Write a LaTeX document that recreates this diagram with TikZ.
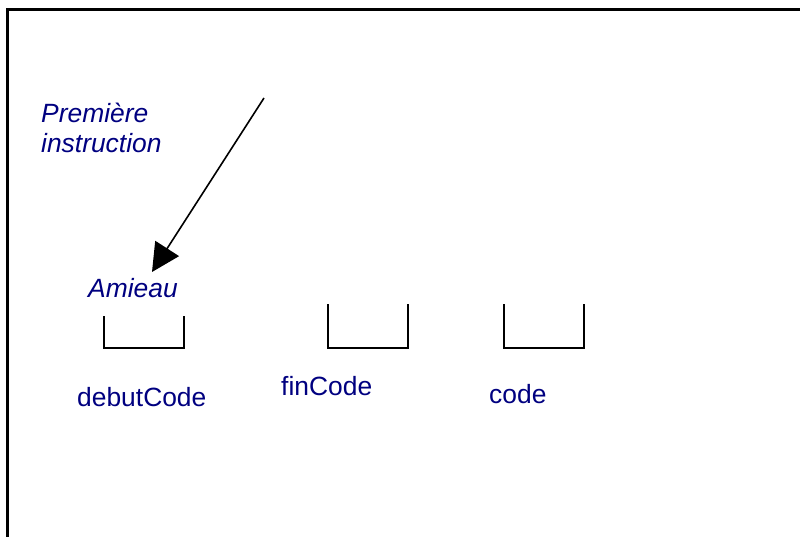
\documentclass[tikz,border=0pt]{standalone}
\usepackage{fontspec}
\setmainfont{Liberation Sans}
\usetikzlibrary{arrows.meta}
\definecolor{navytext}{RGB}{0,0,128}
\tikzset{
  lbl/.style={anchor=base west, inner sep=0pt, text=navytext, font=\fontsize{26.4}{30}\selectfont},
  ilbl/.style={lbl, font=\fontsize{26.4}{30}\selectfont\itshape},
  slot/.style={draw=black, line width=2pt},
  frame/.style={draw=black, line width=3pt},
  pointer/.style={draw=black, line width=1.6pt, -{Triangle[length=28pt,width=28pt]}}
}
\begin{document}
\begin{tikzpicture}[x=1pt,y=-1pt]
\useasboundingbox (0,0) rectangle (800,537);
% frame
\draw[frame] (7,540) -- (7,10) -- (803,10);
% labels
\node[ilbl] (prem) at (41,123) {Première};
\node[ilbl] (instr) at (41,153) {instruction};
\node[ilbl] (amieau) at (88,298) {Amieau};
\node[lbl] (debut) at (77,406) {debutCode};
\node[lbl] (fin) at (281,395) {finCode};
\node[lbl] (code) at (489,403) {code};
% slots
\draw[slot] (104,316) -- (104,348) -- (184,348) -- (184,316);
\draw[slot] (328,304) -- (328,348) -- (408,348) -- (408,304);
\draw[slot] (504,304) -- (504,348) -- (584,348) -- (584,304);
% arrow
\coordinate (astart) at (264,98);
\coordinate (atip) at (152,272);
\draw[pointer] (astart) -- (atip);
\end{tikzpicture}
\end{document}
